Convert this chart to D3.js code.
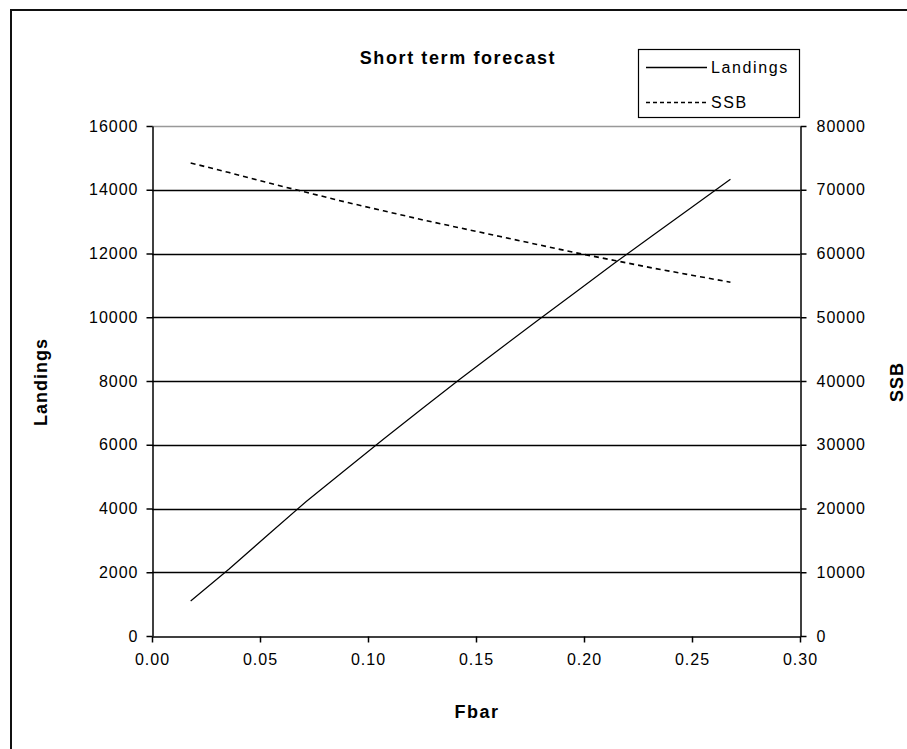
<!DOCTYPE html>
<html>
<head>
<meta charset="utf-8">
<script src="https://cdn.jsdelivr.net/npm/d3@7"></script>
<style>
  html, body { margin: 0; padding: 0; background: #fff; }
  svg { display: block; }
  text { font-family: "Liberation Sans", Arial, sans-serif; fill: #000; }
</style>
</head>
<body>
<svg id="chart" width="907" height="749"></svg>
<script>
// ---- data ----
const fbar = [0.0179, 0.0357, 0.0536, 0.0714, 0.0893, 0.1071, 0.1250, 0.1428, 0.1607, 0.1785, 0.1964, 0.2142, 0.2321, 0.2499, 0.2678];
const landings = [1100, 2100, 3170, 4220, 5200, 6170, 7130, 8070, 8990, 9900, 10800, 11700, 12580, 13450, 14330];
const ssb = [74200, 72700, 71100, 69600, 68100, 66700, 65300, 64000, 62700, 61400, 60100, 58900, 57700, 56600, 55500];
const xTicks = [0, 0.05, 0.10, 0.15, 0.20, 0.25, 0.30];
const leftTicks = [0, 2000, 4000, 6000, 8000, 10000, 12000, 14000, 16000];
const rightTicks = [0, 10000, 20000, 30000, 40000, 50000, 60000, 70000, 80000];
const seriesNames = ["Landings", "SSB"];

// ---- layout ----
const svg = d3.select("#chart");
const L = 152, R = 800, T = 126, B = 636;

const x = d3.scaleLinear().domain([0, 0.30]).range([L, R]);
const yL = d3.scaleLinear().domain([0, 16000]).range([B, T]);
const yR = d3.scaleLinear().domain([0, 80000]).range([B, T]);

// outer chart border
svg.append("rect").attr("x", 11).attr("y", 10).attr("width", 920).attr("height", 760)
  .attr("fill", "#fff").attr("stroke", "#111").attr("stroke-width", 2);

// gridlines
svg.append("g").selectAll("line").data(leftTicks.filter(d => d > 0)).join("line")
  .attr("x1", L).attr("x2", R)
  .attr("y1", d => Math.round(yL(d)) + 0.5).attr("y2", d => Math.round(yL(d)) + 0.5)
  .attr("stroke", d => d === 16000 ? "#999" : "#000").attr("stroke-width", 1.5);

// axes
const fmtX = d3.format(".2f");
const gx = svg.append("g").attr("transform", `translate(0,${B + 0.5})`)
  .call(d3.axisBottom(x).tickValues(xTicks).tickFormat(fmtX).tickSize(6).tickSizeOuter(0).tickPadding(11));
const gl = svg.append("g").attr("transform", `translate(${L + 0.5},0)`)
  .call(d3.axisLeft(yL).tickValues(leftTicks).tickFormat(d3.format("d")).tickSize(6).tickSizeOuter(0).tickPadding(9));
const gr = svg.append("g").attr("transform", `translate(${R + 0.5},0)`)
  .call(d3.axisRight(yR).tickValues(rightTicks).tickFormat(d3.format("d")).tickSize(6).tickSizeOuter(0).tickPadding(10));

[gx, gl, gr].forEach(g => {
  g.select(".domain").attr("stroke", "#000").attr("stroke-width", 1.5);
  g.selectAll(".tick line").attr("stroke", "#000").attr("stroke-width", 1.5);
  g.selectAll(".tick text").style("font-size", "16px").style("letter-spacing", "1px")
    .style("font-family", "'Liberation Sans', Arial, sans-serif").attr("fill", "#000");
});
gl.selectAll(".tick text").attr("dx", "1");

// lines
const lineL = d3.line().x((d, i) => x(fbar[i])).y(d => yL(d));
const lineR = d3.line().x((d, i) => x(fbar[i])).y(d => yR(d));

svg.append("path").datum(landings).attr("d", lineL)
  .attr("fill", "none").attr("stroke", "#000").attr("stroke-width", 1.2);
svg.append("path").datum(ssb).attr("d", lineR)
  .attr("fill", "none").attr("stroke", "#000").attr("stroke-width", 1.6)
  .attr("stroke-dasharray", "5,4");

// title
svg.append("text").attr("x", 458).attr("y", 64).attr("text-anchor", "middle")
  .style("font-size", "18px").style("font-weight", "bold").style("letter-spacing", "1.6px")
  .text("Short term forecast");

// axis titles
svg.append("text").attr("x", 477).attr("y", 718).attr("text-anchor", "middle")
  .style("font-size", "18px").style("font-weight", "bold").style("letter-spacing", "1.5px").text("Fbar");
svg.append("text").attr("transform", "translate(47,382) rotate(-90)").attr("text-anchor", "middle")
  .style("font-size", "18px").style("font-weight", "bold").style("letter-spacing", "1px").text("Landings");
svg.append("text").attr("transform", "translate(903,382) rotate(-90)").attr("text-anchor", "middle")
  .style("font-size", "18px").style("font-weight", "bold").style("letter-spacing", "1px").text("SSB");

// legend
const lg = svg.append("g");
lg.append("rect").attr("x", 638.5).attr("y", 49.5).attr("width", 161).attr("height", 68)
  .attr("fill", "#fff").attr("stroke", "#000").attr("stroke-width", 1.2);
const legRows = [{ y: 67, dash: null }, { y: 102, dash: "4,3" }];
legRows.forEach((r, i) => {
  lg.append("line").attr("x1", 646).attr("x2", 707).attr("y1", r.y + 0.5).attr("y2", r.y + 0.5)
    .attr("stroke", "#000").attr("stroke-width", 1.3).attr("stroke-dasharray", r.dash);
  lg.append("text").attr("x", 711).attr("y", r.y + 6).style("font-size", "16px")
    .style("letter-spacing", "1.6px").text(seriesNames[i]);
});
</script>
</body>
</html>
